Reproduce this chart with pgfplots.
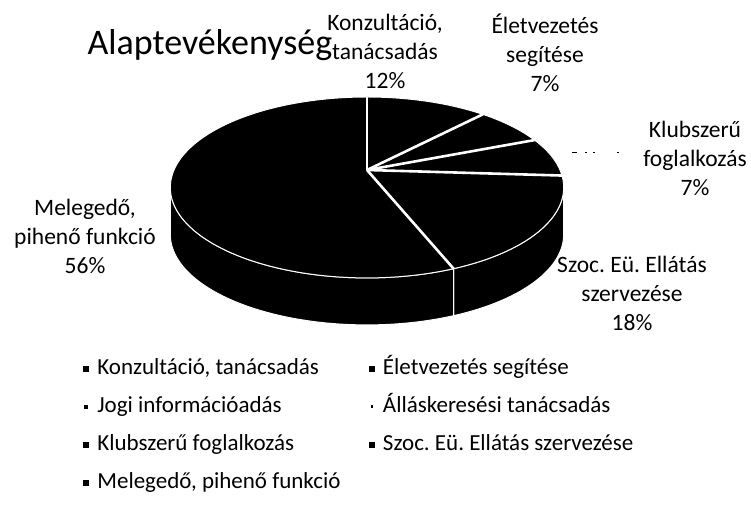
\documentclass[border=0pt]{standalone}
\usepackage{fontspec}
\setmainfont{Carlito}
\usepackage{pgfplots}
\usepackage{pgfplotstable}
\pgfplotsset{compat=1.18}

% share of each activity, in percent, clockwise from 12 o'clock
\pgfplotstableread{
pct
12
7
0
0
7
18
56
}\piedata

% pie geometry, 1pt = 1px of the original (perspective view of a disc)
\def\ox{367}\def\oy{345}      % centre of the disc
\def\rxA{193}\def\ryB{87.1}   % half axes
\def\kk{0.193}                % perspective strength
\def\dep{47}                  % thickness
\def\phA{101.13}\def\phB{258.87} % visible side wall

% point of the rim at pie angle #1 (clockwise from top) -> \px, \py
\newcommand\rimpt[1]{%
  \pgfmathsetmacro\wq{1+\kk*cos(#1)}%
  \pgfmathsetmacro\px{\ox+\rxA*sin(#1)/\wq}%
  \pgfmathsetmacro\py{\oy+\ryB*cos(#1)/\wq}%
}

\begin{document}
\frenchspacing
\begin{tikzpicture}[
  slice/.style={fill=black, draw=white, line width=1pt, line join=round},
  sep/.style={draw=white, line width=2.6pt},
  lbl/.style={align=center, font=\fontsize{23.5}{29}\selectfont},
]
\useasboundingbox (0,0) rectangle (751pt,515pt);

% build slices from the table
\def\topfaces{}\def\sidewalls{}\def\seplines{}
\def\cum{0}
\pgfplotstablegetrowsof{\piedata}
\pgfmathtruncatemacro\lastrow{\pgfplotsretval-1}
\pgfplotsforeachungrouped \row in {0,...,\lastrow}{%
  \pgfplotstablegetelem{\row}{pct}\of\piedata
  \let\pv=\pgfplotsretval
  \pgfmathsetmacro\phs{3.6*\cum}%
  \pgfmathsetmacro\cum{\cum+\pv}%
  \pgfmathsetmacro\phe{3.6*\cum}%
  \ifdim\pv pt>0pt
    \rimpt{\phs}%
    \xdef\seplines{\unexpanded\expandafter{\seplines}%
      \noexpand\draw[sep] (axis cs:\ox,\oy) -- (axis cs:\px,\py);}%
    \pgfmathtruncatemacro\nst{max(2,ceil((\phe-\phs)/2))}%
    \pgfmathsetmacro\dph{(\phe-\phs)/\nst}%
    \gdef\pts{}%
    \foreach \ii in {0,...,\nst}{%
      \pgfmathsetmacro\ph{\phs+\dph*\ii}%
      \rimpt{\ph}%
      \xdef\pts{\pts(axis cs:\px,\py) -- }%
    }%
    \xdef\topfaces{\unexpanded\expandafter{\topfaces}%
      \noexpand\filldraw[slice] (axis cs:\ox,\oy) -- \pts cycle;}%
    \pgfmathsetmacro\lo{max(\phs,\phA)}%
    \pgfmathsetmacro\hi{min(\phe,\phB)}%
    \ifdim\hi pt>\lo pt
      \pgfmathtruncatemacro\nst{max(2,ceil((\hi-\lo)/2))}%
      \pgfmathsetmacro\dph{(\hi-\lo)/\nst}%
      \gdef\wtop{}\gdef\wbot{}%
      \foreach \ii in {0,...,\nst}{%
        \pgfmathsetmacro\ph{\lo+\dph*\ii}%
        \rimpt{\ph}%
        \pgfmathsetmacro\pyb{\py-\dep}%
        \xdef\wtop{\wtop(axis cs:\px,\py) -- }%
        \xdef\wbot{(axis cs:\px,\pyb) -- \wbot}%
      }%
      \xdef\sidewalls{\unexpanded\expandafter{\sidewalls}%
        \noexpand\filldraw[slice] \wbot\wtop cycle;}%
    \fi
  \fi
}

\begin{axis}[
  x=1pt, y=1pt,
  xmin=0, xmax=751, ymin=0, ymax=515,
  hide axis,
  clip=false,
  legend columns=2,
  legend style={
    draw=none, fill=none, inner sep=0pt, outer sep=0pt,
    at={(0.1105,0.306)}, anchor=north west,
    font=\fontsize{23}{28}\selectfont,
    row sep=16pt,
    nodes={inner sep=0pt, text height=17pt, text depth=5pt},
    /tikz/every odd column/.append style={column sep=8.6pt},
    /tikz/every even column/.append style={column sep=28pt},
  },
  legend cell align=left,
]
\sidewalls
\topfaces
\seplines

% leader remnants of the zero slices
\draw[black, line width=1pt, dash pattern=on 5pt off 8pt on 1.5pt off 6pt on 2pt off 22pt on 2.5pt]
  (axis cs:572,363) -- (axis cs:622,363);

\node[anchor=base west, font=\fontsize{36}{42}\selectfont] at (axis cs:84,460) {Alaptevékenység};

\node[lbl] at (axis cs:385,464) {Konzultáció,\\tanácsadás\\12\%};
\node[lbl] at (axis cs:545,462) {Életvezetés\\segítése\\7\%};
\node[lbl] at (axis cs:695,357) {Klubszerű\\foglalkozás\\7\%};
\node[lbl] at (axis cs:632,222) {Szoc. Eü. Ellátás\\szervezése\\18\%};
\node[lbl] at (axis cs:85,279) {Melegedő,\\pihenő funkció\\56\%};

\addlegendimage{legend image code/.code={\fill[black] (0pt,-2.7pt) rectangle (5.4pt,2.7pt);}}
\addlegendentry{Konzultáció, tanácsadás}
\addlegendimage{legend image code/.code={\fill[black] (0pt,-2.7pt) rectangle (5.4pt,2.7pt);}}
\addlegendentry{Életvezetés segítése}
\addlegendimage{legend image code/.code={\fill[black] (1.5pt,-1.5pt) rectangle (3.9pt,0.9pt);}}
\addlegendentry{Jogi információadás}
\addlegendimage{legend image code/.code={\fill[black] (2pt,-1pt) rectangle (3.8pt,0.8pt);}}
\addlegendentry{Álláskeresési tanácsadás}
\addlegendimage{legend image code/.code={\fill[black] (0pt,-2.7pt) rectangle (5.4pt,2.7pt);}}
\addlegendentry{Klubszerű foglalkozás}
\addlegendimage{legend image code/.code={\fill[black] (0pt,-2.7pt) rectangle (5.4pt,2.7pt);}}
\addlegendentry{Szoc. Eü. Ellátás szervezése}
\addlegendimage{legend image code/.code={\fill[black] (0pt,-2.7pt) rectangle (5.4pt,2.7pt);}}
\addlegendentry{Melegedő, pihenő funkció}
\end{axis}
\end{tikzpicture}
\end{document}
